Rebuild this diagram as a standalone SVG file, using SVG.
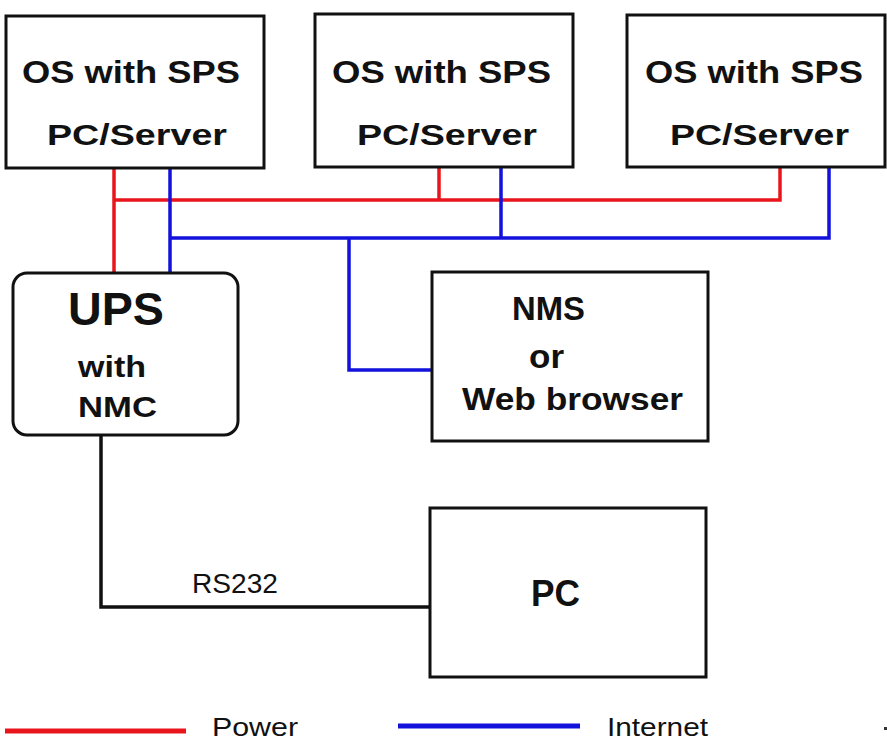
<svg xmlns="http://www.w3.org/2000/svg" width="887" height="743" viewBox="0 0 887 743">
<style>
.box{fill:#fff;stroke:#111;stroke-width:3}
.t{font-family:"Liberation Sans",Arial,sans-serif;font-weight:bold;fill:#111}
.r{font-family:"Liberation Sans",Arial,sans-serif;fill:#111}
.pw{fill:none;stroke:#e8161c;stroke-width:3.5}
.net{fill:none;stroke:#1212dc;stroke-width:3.5}
.ser{fill:none;stroke:#111;stroke-width:3.5}
</style>
<rect width="887" height="743" fill="#fff"/>
<g id="connectors">
<path class="pw" d="M114 168V273M114 200H780V167M439 167V200"/>
<path class="net" d="M170 168V273M170 238H829V167M501 167V238M349 238V370H432"/>
<path class="ser" d="M101 436V607H430"/>
<text class="r" x="192" y="593" font-size="28" textLength="86" lengthAdjust="spacingAndGlyphs">RS232</text>
</g>
<g id="server1">
<rect class="box" x="6" y="16" width="258" height="152"/>
<text class="t" x="22" y="83" font-size="32" textLength="218" lengthAdjust="spacingAndGlyphs">OS with SPS</text>
<text class="t" x="47" y="145" font-size="29" textLength="180" lengthAdjust="spacingAndGlyphs">PC/Server</text>
</g>
<g id="server2">
<rect class="box" x="315" y="14" width="258" height="153"/>
<text class="t" x="332" y="83" font-size="32" textLength="219" lengthAdjust="spacingAndGlyphs">OS with SPS</text>
<text class="t" x="357" y="145" font-size="29" textLength="180" lengthAdjust="spacingAndGlyphs">PC/Server</text>
</g>
<g id="server3">
<rect class="box" x="627" y="15" width="258" height="152"/>
<text class="t" x="645" y="83" font-size="32" textLength="218" lengthAdjust="spacingAndGlyphs">OS with SPS</text>
<text class="t" x="670" y="145" font-size="29" textLength="179" lengthAdjust="spacingAndGlyphs">PC/Server</text>
</g>
<g id="ups">
<rect class="box" x="13" y="273" width="225" height="162" rx="14"/>
<text class="t" x="68" y="325" font-size="46" textLength="96" lengthAdjust="spacingAndGlyphs">UPS</text>
<text class="t" x="78" y="377" font-size="30" textLength="68" lengthAdjust="spacingAndGlyphs">with</text>
<text class="t" x="78" y="417" font-size="30" textLength="79" lengthAdjust="spacingAndGlyphs">NMC</text>
</g>
<g id="nms">
<rect class="box" x="432" y="272" width="276" height="169"/>
<text class="t" x="512" y="320" font-size="33" textLength="73" lengthAdjust="spacingAndGlyphs">NMS</text>
<text class="t" x="529" y="368" font-size="33" textLength="35" lengthAdjust="spacingAndGlyphs">or</text>
<text class="t" x="462" y="410" font-size="32" textLength="221" lengthAdjust="spacingAndGlyphs">Web browser</text>
</g>
<g id="pc">
<rect class="box" x="430" y="508" width="276" height="169"/>
<text class="t" x="531" y="606" font-size="36" textLength="49" lengthAdjust="spacingAndGlyphs">PC</text>
</g>
<g id="legend">
<line x1="5" y1="731" x2="186" y2="731" stroke="#e8161c" stroke-width="5"/>
<text class="r" x="212" y="736" font-size="25" textLength="86" lengthAdjust="spacingAndGlyphs">Power</text>
<line x1="398" y1="726" x2="580" y2="726" stroke="#1212dc" stroke-width="5"/>
<text class="r" x="607" y="736" font-size="25" textLength="101" lengthAdjust="spacingAndGlyphs">Internet</text>
<rect x="884" y="727" width="3" height="3" fill="#333"/>
</g>
</svg>
